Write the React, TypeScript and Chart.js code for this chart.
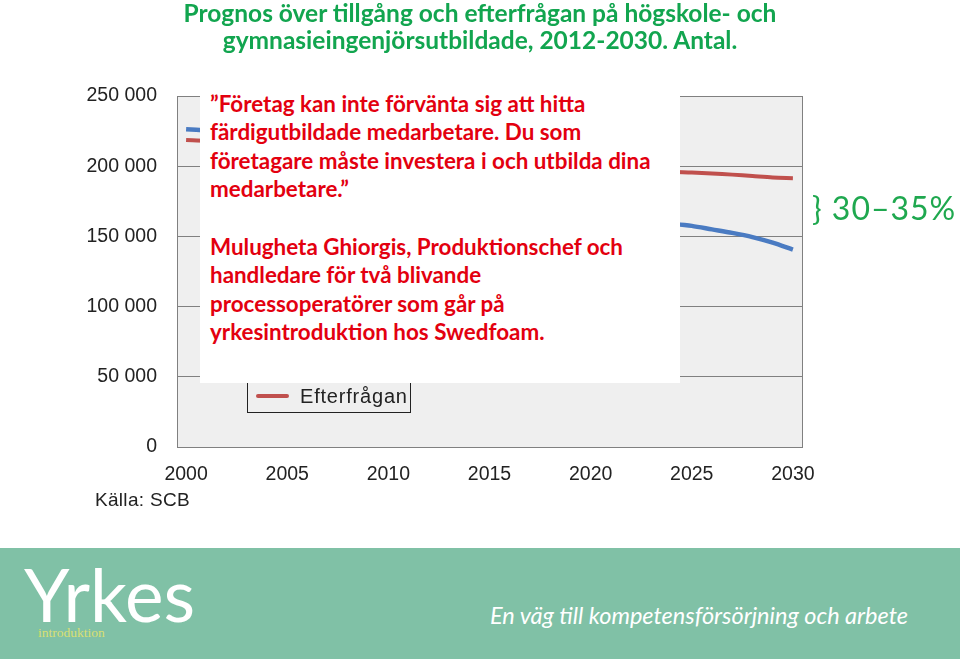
import React, { useEffect, useRef } from "react";
import { Chart, registerables } from "chart.js";

Chart.register(...registerables);

const years = [2000, 2001, 2005, 2010, 2015, 2020, 2024, 2025, 2026, 2027, 2028, 2029, 2030];
const tillgang = [226300, 225500, 222000, 215000, 201000, 178000, 159500, 157500, 155000, 152500, 149500, 145500, 140500];
const efterfragan = [218700, 218000, 212000, 206000, 202000, 199000, 196000, 195500, 194800, 194000, 193000, 192000, 191500];
const xTicks = [2000, 2005, 2010, 2015, 2020, 2025, 2030];
const seriesNames = ["Tillgång", "Efterfrågan"];
const seriesColors = ["#4a7bc2", "#c0504d"];

const fmt = (v: number) => String(v).replace(/\B(?=(\d{3})+(?!\d))/g, " ");

const framePlugin = {
  id: "frame",
  beforeDraw(chart: any) {
    const { ctx, chartArea: a } = chart;
    ctx.save();
    ctx.fillStyle = "#efefef";
    ctx.fillRect(a.left, a.top, a.right - a.left, a.bottom - a.top);
    ctx.restore();
  },
  afterDraw(chart: any) {
    const { ctx, chartArea: a } = chart;
    ctx.save();
    ctx.strokeStyle = "#808080";
    ctx.lineWidth = 1;
    ctx.strokeRect(Math.round(a.left) + 0.5, Math.round(a.top) + 0.5, Math.round(a.right - a.left), Math.round(a.bottom - a.top));
    // legend box inside plot
    const lx = 247.5, ly = 346.5, lw = 163, lh = 66;
    ctx.fillStyle = "#efefef";
    ctx.fillRect(lx, ly, lw, lh);
    ctx.strokeStyle = "#222";
    ctx.strokeRect(lx, ly, lw, lh);
    ctx.font = '20px "Liberation Sans", Arial, sans-serif';
    ctx.textBaseline = "middle";
    (ctx as any).letterSpacing = "0.8px";
    ctx.fillStyle = "#222";
    seriesNames.forEach((n, i) => {
      const y = 368 + i * 28;
      ctx.strokeStyle = seriesColors[i];
      ctx.lineWidth = 4;
      ctx.lineCap = "round";
      ctx.beginPath();
      ctx.moveTo(258, y);
      ctx.lineTo(287, y);
      ctx.stroke();
      ctx.fillText(n, 300, y + 1);
    });
    ctx.restore();
  },
};

export default function App() {
  const ref = useRef<HTMLCanvasElement>(null);
  useEffect(() => {
    if (!ref.current) return;
    const chart = new Chart(ref.current, {
      type: "line",
      data: {
        datasets: [
          {
            label: seriesNames[0],
            data: years.map((y, i) => ({ x: y, y: tillgang[i] })),
            borderColor: seriesColors[0],
            borderWidth: 4.5,
            pointRadius: 0,
            tension: 0.3,
          },
          {
            label: seriesNames[1],
            data: years.map((y, i) => ({ x: y, y: efterfragan[i] })),
            borderColor: seriesColors[1],
            borderWidth: 4,
            pointRadius: 0,
            tension: 0.3,
          },
        ],
      },
      options: {
        animation: false,
        responsive: false,
        layout: { padding: { left: 0, top: 96, right: 158, bottom: 0 } },
        plugins: { legend: { display: false }, tooltip: { enabled: false } },
        scales: {
          x: {
            type: "linear",
            min: 1999.55,
            max: 2030.45,
            afterBuildTicks: (s: any) => {
              s.ticks = xTicks.map((v) => ({ value: v }));
            },
            afterFit: (s: any) => {
              s.height = 212;
            },
            grid: { display: false, drawTicks: false },
            border: { display: false },
            ticks: {
              padding: 16,
              color: "#222",
              font: { family: '"Liberation Sans", Arial, sans-serif', size: 19.5 },
              callback: (v: any) => String(v),
              maxRotation: 0,
            },
          },
          y: {
            min: 0,
            max: 250000,
            afterFit: (s: any) => {
              s.width = 177;
            },
            grid: { color: "#808080", drawTicks: false, lineWidth: 1 },
            border: { display: false },
            ticks: {
              stepSize: 50000,
              padding: 20,
              color: "#222",
              font: { family: '"Liberation Sans", Arial, sans-serif', size: 19.5 },
              callback: (v: any) => fmt(Number(v)),
            },
          },
        },
      },
      plugins: [framePlugin],
    });
    return () => chart.destroy();
  }, []);

  const red = "#e3000f";
  return (
    <div style={{ position: "absolute", left: 0, top: 0, width: 960, height: 659, background: "#fff", overflow: "hidden" }}>
      <canvas ref={ref} width={960} height={659} style={{ position: "absolute", left: 0, top: 0, width: 960, height: 659 }} />
      <div
        style={{
          position: "absolute",
          left: 0,
          top: 0,
          width: 960,
          textAlign: "center",
          fontFamily: "Lato, 'Open Sans', sans-serif",
          fontWeight: 700,
          fontSize: 24.5,
          lineHeight: "26.5px",
          color: "#12a54f",
        }}
      >
        Prognos över tillgång och efterfrågan på högskole- och
        <br />
        gymnasieingenjörsutbildade, 2012-2030. Antal.
      </div>
      <div
        style={{
          position: "absolute",
          left: 200,
          top: 88,
          width: 480,
          height: 295,
          background: "#fff",
          boxSizing: "border-box",
          paddingLeft: 10,
          paddingTop: 2,
          fontFamily: "Lato, 'Open Sans', sans-serif",
          fontWeight: 700,
          fontSize: 22.4,
          lineHeight: "28.3px",
          color: red,
          whiteSpace: "nowrap",
        }}
      >
        <div>
          ”Företag kan inte förvänta sig att hitta
          <br />
          färdigutbildade medarbetare. Du som
          <br />
          företagare måste investera i och utbilda dina
          <br />
          medarbetare.”
        </div>
        <div style={{ marginTop: 30 }}>
          Mulugheta Ghiorgis, Produktionschef och
          <br />
          handledare för två blivande
          <br />
          processoperatörer som  går på
          <br />
          yrkesintroduktion hos Swedfoam.
        </div>
      </div>
      <div
        style={{
          position: "absolute",
          left: 812,
          top: 190,
          fontFamily: "Lato, 'Open Sans', sans-serif",
          fontSize: 32,
          lineHeight: "36px",
          color: "#1fa84f",
          letterSpacing: 1,
          whiteSpace: "nowrap",
        }}
      >
        {"} 30–35%"}
      </div>
      <div
        style={{
          position: "absolute",
          left: 95,
          top: 489,
          fontFamily: '"Liberation Sans", Arial, sans-serif',
          fontSize: 19,
          letterSpacing: 0.3,
          color: "#222",
          whiteSpace: "nowrap",
        }}
      >
        Källa: SCB
      </div>
      <div style={{ position: "absolute", left: 0, top: 548, width: 960, height: 111, background: "#80c1a6" }}>
        <div
          style={{
            position: "absolute",
            left: 24,
            top: 10,
            fontFamily: "Lato, 'Open Sans', sans-serif",
            fontWeight: 400,
            fontSize: 73,
            lineHeight: "73px",
            color: "#fff",
            whiteSpace: "nowrap",
          }}
        >
          Yrkes
        </div>
        <div
          style={{
            position: "absolute",
            left: 38,
            top: 77,
            fontFamily: '"Liberation Serif", "Times New Roman", serif',
            fontSize: 13.5,
            lineHeight: "16px",
            color: "#d9df72",
            whiteSpace: "nowrap",
          }}
        >
          introduktion
        </div>
        <div
          style={{
            position: "absolute",
            left: 490,
            top: 54,
            fontFamily: "Lato, 'Open Sans', sans-serif",
            fontStyle: "italic",
            fontSize: 23.5,
            lineHeight: "26px",
            color: "#fff",
            whiteSpace: "nowrap",
          }}
        >
          En väg till kompetensförsörjning och arbete
        </div>
      </div>
    </div>
  );
}
